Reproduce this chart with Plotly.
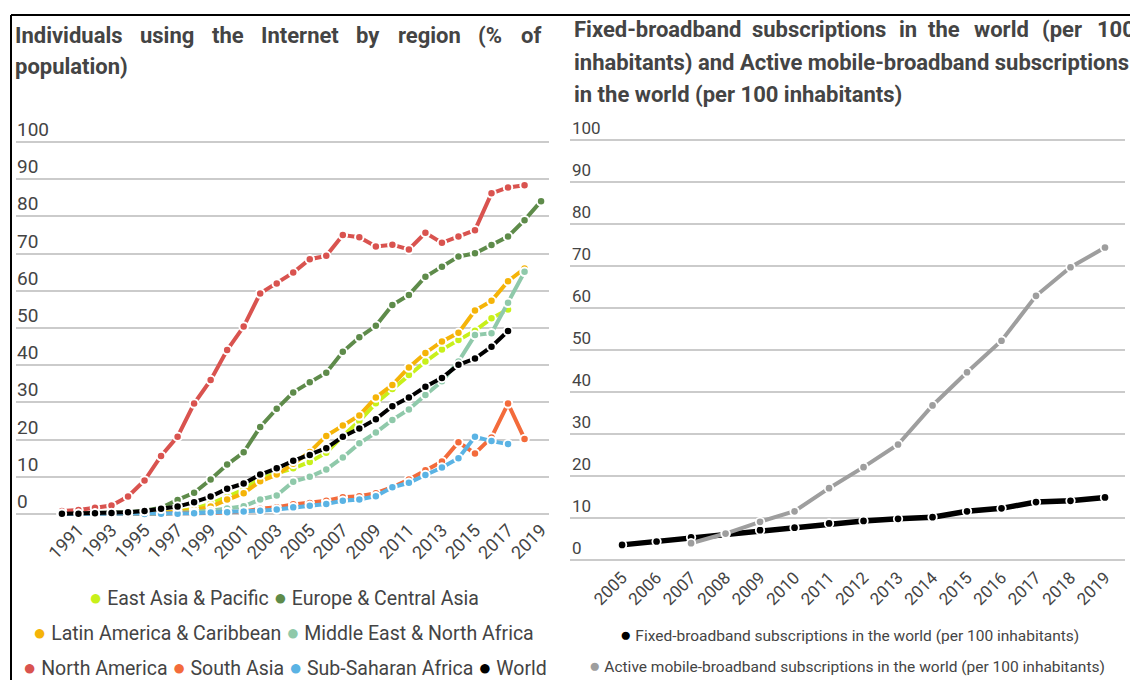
import plotly.graph_objects as go

W, H = 1130, 680

# ---------------- data: internet users by region (% of population) ----------------
years = list(range(1990, 2020))
x_tick_years = list(range(1991, 2020, 2))
y_ticks = list(range(0, 101, 10))

regions = [
    "East Asia & Pacific", "Europe & Central Asia",
    "Latin America & Caribbean", "Middle East & North Africa",
    "North America", "South Asia", "Sub-Saharan Africa", "World",
]
region_colors = ["#c8f01a", "#5e8b4a", "#f5b408", "#8fc9aa",
                 "#d9534f", "#f36b3b", "#5ab3e4", "#000000"]

east_asia = [0, 0, 0, 0.01, 0.05, 0.1, 0.3, 0.7, 1.4, 2.8,
             4.6, 6.6, 9.6, 11.0, 12.3, 14.0, 16.5, 21.0, 25.0, 29.8,
             33.6, 37.4, 41.0, 44.2, 46.8, 49.3, 52.6, 55.0, None, None]
europe = [0.05, 0.1, 0.2, 0.3, 0.5, 0.9, 1.7, 3.8, 5.7, 9.3,
          13.3, 16.6, 23.4, 28.3, 32.7, 35.4, 38.0, 43.6, 47.5, 50.6,
          56.2, 58.9, 63.8, 66.5, 69.2, 70.1, 72.3, 74.6, 79.0, 84.1]
latin_america = [0, 0, 0, 0.01, 0.03, 0.1, 0.3, 0.6, 1.1, 2.0,
                 3.9, 5.6, 8.8, 10.6, 13.5, 16.7, 21.0, 23.8, 26.5, 31.3,
                 34.7, 39.4, 43.3, 46.4, 48.7, 54.7, 57.3, 62.6, 66.0, None]
middle_east = [0, 0, 0, 0, 0.01, 0.05, 0.1, 0.3, 0.5, 0.9,
               1.5, 2.1, 3.9, 5.0, 8.7, 10.0, 12.0, 15.2, 19.0, 21.9,
               25.3, 28.1, 32.0, 35.7, 41.0, 48.1, 48.6, 56.8, 65.1, None]
north_america = [0.8, 1.1, 1.7, 2.3, 4.7, 9.0, 15.6, 20.8, 29.7, 36.0,
                 44.1, 50.4, 59.3, 62.0, 64.9, 68.5, 69.4, 75.0, 74.4, 71.9,
                 72.4, 71.1, 75.6, 72.9, 74.6, 76.3, 86.2, 87.8, 88.4, None]
south_asia = [0, 0, 0, 0, 0, 0.02, 0.05, 0.1, 0.2, 0.3,
              0.5, 0.7, 1.4, 1.8, 2.6, 3.0, 3.6, 4.5, 4.8, 5.6,
              7.2, 9.3, 11.8, 14.1, 19.3, 16.3, 20.6, 29.7, 20.2, None]
sub_saharan = [0, 0, 0, 0, 0, 0.02, 0.05, 0.1, 0.2, 0.4,
               0.5, 0.7, 0.9, 1.2, 1.8, 2.2, 2.7, 3.6, 3.9, 4.8,
               7.2, 8.4, 10.5, 12.5, 15.0, 20.8, 19.6, 18.8, None, None]
world = [0.05, 0.1, 0.2, 0.3, 0.5, 0.8, 1.4, 2.0, 3.2, 4.7,
         6.8, 8.2, 10.6, 12.3, 14.3, 15.9, 17.7, 20.8, 23.0, 25.5,
         29.0, 31.3, 34.2, 36.6, 40.1, 41.8, 45.0, 49.2, None, None]
region_values = [east_asia, europe, latin_america, middle_east,
                 north_america, south_asia, sub_saharan, world]

# ---------------- data: broadband subscriptions (per 100 inhabitants) ----------------
bb_years = list(range(2005, 2020))
bb_names = ["Fixed-broadband subscriptions in the world (per 100 inhabitants)",
            "Active mobile-broadband subscriptions in the world (per 100 inhabitants)"]
bb_colors = ["#000000", "#9e9e9e"]
fixed_bb = [3.6, 4.4, 5.4, 6.3, 7.1, 7.7, 8.7, 9.3, 9.8, 10.2, 11.6, 12.3, 13.8, 14.1, 14.9]
mobile_bb = [None, None, 4.0, 6.3, 9.1, 11.6, 17.1, 22.1, 27.5, 36.8, 44.7, 52.2, 62.9, 69.7, 74.4]
bb_values = [fixed_bb, mobile_bb]

TEXT = "#444444"
FONT = "Roboto"

fig = go.Figure()

for name, vals, col in zip(regions, region_values, region_colors):
    fig.add_trace(go.Scatter(
        x=years, y=vals, name=name, mode="lines+markers",
        line=dict(color=col, width=4),
        marker=dict(size=8.5, color=col, line=dict(color="white", width=2)),
        xaxis="x", yaxis="y", showlegend=False, cliponaxis=False,
    ))

for name, vals, col, w in zip(bb_names, bb_values, bb_colors, [5.5, 4]):
    fig.add_trace(go.Scatter(
        x=bb_years, y=vals, name=name, mode="lines+markers",
        line=dict(color=col, width=w),
        marker=dict(size=8.5, color=col, line=dict(color="white", width=1.8)),
        xaxis="x2", yaxis="y2", showlegend=False, cliponaxis=False,
    ))

def px_x(p):
    return p / W

def px_y(p):
    return 1 - p / H

axis_common = dict(showline=False, zeroline=False, ticks="", fixedrange=True)

fig.update_layout(
    width=W, height=H,
    margin=dict(l=0, r=0, t=0, b=0),
    paper_bgcolor="white", plot_bgcolor="white",
    font=dict(family=FONT, color=TEXT),
    xaxis=dict(domain=[px_x(16), px_x(549)], range=[1987.22, 2019.48],
               tickvals=x_tick_years, ticktext=[str(y) for y in x_tick_years],
               tickangle=-45, tickfont=dict(size=18, color=TEXT),
               ticklabelstandoff=-10,
               showgrid=False, anchor="y", **axis_common),
    yaxis=dict(domain=[px_y(525.2), px_y(138.3)], range=[-3, 101],
               tickvals=y_ticks, showticklabels=False,
               showgrid=True, gridcolor="#cbcbcb", gridwidth=1.5,
               anchor="x", **axis_common),
    xaxis2=dict(domain=[px_x(570), px_x(1125)], range=[2003.49, 2019.58],
                tickvals=bb_years, ticktext=[str(y) for y in bb_years],
                tickangle=-45, tickfont=dict(size=17, color=TEXT),
                ticklabelstandoff=-9,
                showgrid=False, anchor="y2", **axis_common),
    yaxis2=dict(domain=[px_y(572.6), px_y(135.8)], range=[-3, 101],
                tickvals=y_ticks, showticklabels=False,
                showgrid=True, gridcolor="#cbcbcb", gridwidth=1.5,
                anchor="x2", **axis_common),
)

annotations = []

# value labels sitting just above each gridline
for v in y_ticks:
    annotations.append(dict(xref="paper", yref="y", x=px_x(15), y=v,
                            xanchor="left", yanchor="bottom", yshift=-1,
                            text=str(v), showarrow=False,
                            font=dict(size=19, color=TEXT)))
    annotations.append(dict(xref="paper", yref="y2", x=px_x(570), y=v,
                            xanchor="left", yanchor="bottom", yshift=0,
                            text=str(v), showarrow=False,
                            font=dict(size=17, color=TEXT)))

# justified chart titles, word by word
title_font = dict(size=22, color=TEXT, weight="bold")
left_title_1 = ["Individuals", "using", "the", "Internet", "by", "region", "(%", "of"]
left_title_1_x = [13, 138, 210, 259, 354, 396, 476, 519]
for word, xp in zip(left_title_1, left_title_1_x):
    annotations.append(dict(xref="paper", yref="paper", x=px_x(xp), y=px_y(35),
                            xanchor="left", yanchor="middle", text=word,
                            showarrow=False, font=title_font))
annotations.append(dict(xref="paper", yref="paper", x=px_x(13), y=px_y(67),
                        xanchor="left", yanchor="middle", text="population)",
                        showarrow=False, font=title_font))

right_title_1 = ["Fixed-broadband", "subscriptions", "in", "the", "world", "(per", "100"]
right_title_1_x = [572, 750, 897, 926, 972, 1040, 1095]
for word, xp in zip(right_title_1, right_title_1_x):
    annotations.append(dict(xref="paper", yref="paper", x=px_x(xp), y=px_y(30),
                            xanchor="left", yanchor="middle", text=word,
                            showarrow=False, font=title_font))
for txt, yp in [("inhabitants) and Active mobile-broadband subscriptions", 62),
                ("in the world (per 100 inhabitants)", 95)]:
    annotations.append(dict(xref="paper", yref="paper", x=px_x(572), y=px_y(yp),
                            xanchor="left", yanchor="middle", text=txt,
                            showarrow=False, font=title_font))

# legends, centred rows of coloured dots and names
def legend_row(idx, names, colors, dot_size):
    parts = [f'<span style="color:{colors[i]};font-size:{dot_size}px">●</span> {names[i]}'
             for i in idx]
    return " ".join(parts)

left_rows = [([0, 1], 284, 597), ([2, 3], 283, 632), ([4, 5, 6, 7], 285, 667)]
for idx, cx, cy in left_rows:
    annotations.append(dict(xref="paper", yref="paper", x=px_x(cx), y=px_y(cy),
                            xanchor="center", yanchor="middle",
                            text=legend_row(idx, regions, region_colors, 22),
                            showarrow=False, font=dict(size=19.5, color=TEXT)))

right_rows = [([0], 849, 634), ([1], 847, 665)]
for idx, cx, cy in right_rows:
    annotations.append(dict(xref="paper", yref="paper", x=px_x(cx), y=px_y(cy),
                            xanchor="center", yanchor="middle",
                            text=legend_row(idx, bb_names, bb_colors, 19),
                            showarrow=False, font=dict(size=15.5, color=TEXT)))

fig.update_layout(annotations=annotations)

# frame along the top and left edges
fig.update_layout(shapes=[
    dict(type="line", xref="paper", yref="paper", x0=px_x(11), x1=1,
         y0=px_y(15), y1=px_y(15), line=dict(color="black", width=2)),
    dict(type="line", xref="paper", yref="paper", x0=px_x(11), x1=px_x(11),
         y0=px_y(15), y1=0, line=dict(color="black", width=2)),
])

fig.write_html("out.html")
